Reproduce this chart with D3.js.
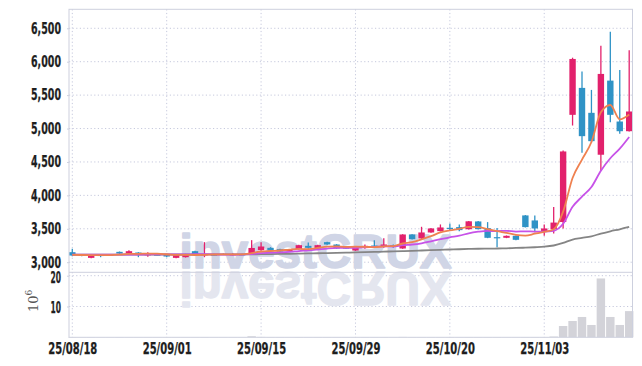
<!DOCTYPE html>
<html>
<head>
<meta charset="utf-8">
<script src="https://cdn.jsdelivr.net/npm/d3@7"></script>
<style>
  body { margin: 0; background: #fff; }
  svg text { font-family: "DejaVu Sans Condensed", "Liberation Sans", sans-serif; }
</style>
</head>
<body>
<svg id="chart" width="642" height="366"></svg>
<script>
// trading days, 25/08/18 .. 25/11/14
const dates = [
  "25/08/18","25/08/19","25/08/20","25/08/21","25/08/22","25/08/25","25/08/26","25/08/27","25/08/28","25/08/29",
  "25/09/01","25/09/02","25/09/03","25/09/04","25/09/05","25/09/08","25/09/09","25/09/10","25/09/11","25/09/12",
  "25/09/15","25/09/16","25/09/17","25/09/18","25/09/19","25/09/22","25/09/23","25/09/24","25/09/25","25/09/26",
  "25/09/29","25/09/30","25/10/01","25/10/02","25/10/10","25/10/13","25/10/14","25/10/15","25/10/16","25/10/17",
  "25/10/20","25/10/21","25/10/22","25/10/23","25/10/24","25/10/27","25/10/28","25/10/29","25/10/30","25/10/31",
  "25/11/03","25/11/04","25/11/05","25/11/06","25/11/07","25/11/10","25/11/11","25/11/12","25/11/13","25/11/14"
];

const open = [
  3150,3115,3065,3110,3105,3155,3130,3145,3105,3115,
  3115,3065,3075,3165,3110,3115,3120,3110,3120,3115,
  3180,3215,3195,3165,3195,3245,3205,3300,3265,3220,
  3175,3225,3250,3235,3255,3205,3415,3355,3445,3465,
  3515,3525,3493,3610,3510,3375,3365,3395,3700,3625,
  3465,3493,3602,5205,5608,5235,4608,5717,5105,4960
];
const high = [
  3200,3120,3120,3115,3120,3160,3180,3150,3150,3125,
  3120,3120,3125,3170,3300,3125,3130,3135,3125,3330,
  3300,3225,3200,3195,3260,3295,3260,3305,3270,3225,
  3235,3265,3330,3360,3265,3420,3420,3530,3510,3565,
  3580,3565,3615,3615,3600,3510,3400,3400,3705,3700,
  3565,3826,4670,6060,5852,5578,6240,6449,5877,6170
];
const low = [
  3090,3090,3060,3075,3100,3125,3125,3075,3080,3105,
  3075,3060,3070,3110,3075,3105,3110,3105,3110,3110,
  3170,3170,3155,3160,3190,3200,3200,3260,3200,3200,
  3170,3200,3230,3215,3215,3200,3340,3350,3440,3460,
  3475,3465,3490,3490,3360,3225,3360,3330,3520,3450,
  3395,3428,3503,5045,4638,4790,4363,5095,4921,4955
];
const close = [
  3100,3100,3115,3100,3115,3130,3165,3115,3120,3110,
  3085,3115,3115,3115,3120,3110,3125,3120,3115,3213,
  3235,3175,3160,3185,3255,3215,3255,3265,3205,3210,
  3235,3245,3240,3265,3235,3415,3345,3445,3505,3520,
  3510,3480,3612,3495,3365,3370,3395,3335,3525,3505,
  3505,3593,4657,6041,4886,4811,5817,5205,4960,5255
];

// moving averages
const ma5 = [
  3110,3108,3107,3106,3106,3112,3125,3125,3129,3128,
  3119,3109,3109,3108,3110,3115,3117,3118,3118,3137,
  3160,3168,3175,3189,3199,3195,3213,3233,3237,3228,
  3232,3230,3225,3237,3242,3280,3300,3341,3389,3446,
  3475,3500,3528,3525,3495,3464,3440,3410,3398,3426,
  3453,3493,3757,4260,4536,4798,5242,5352,5136,5210
];
const ma10 = [
  3114,3114,3113,3113,3113,3114,3115,3115,3116,3117,
  3116,3117,3117,3119,3119,3117,3113,3114,3113,3123,
  3137,3142,3147,3154,3167,3177,3190,3204,3213,3214,
  3216,3222,3229,3237,3235,3256,3265,3283,3313,3344,
  3373,3396,3433,3456,3469,3465,3470,3459,3461,3459,
  3459,3470,3575,3829,3981,4125,4368,4555,4698,4873
];
const ma60 = [
  3112,3112,3112,3113,3113,3113,3114,3114,3114,3114,
  3115,3115,3115,3115,3116,3116,3116,3117,3117,3118,
  3120,3122,3124,3126,3128,3131,3134,3137,3140,3143,
  3146,3150,3154,3158,3162,3166,3170,3175,3180,3185,
  3190,3194,3198,3201,3203,3205,3208,3213,3218,3224,
  3232,3250,3288,3339,3363,3388,3428,3463,3493,3527
];

// volume, millions of shares
const volume = [
  0.08,0.06,0.07,0.05,0.06,0.07,0.06,0.05,0.05,0.06,
  0.05,0.06,0.06,0.05,0.08,0.05,0.05,0.06,0.05,0.35,
  0.12,0.08,0.07,0.06,0.09,0.07,0.08,0.08,0.07,0.06,
  0.06,0.07,0.07,0.08,0.06,0.12,0.09,0.10,0.10,0.09,
  0.08,0.07,0.09,0.08,0.09,0.08,0.06,0.06,0.10,0.09,
  0.08,0.25,3.67,5.3,6.6,4.0,19.1,6.6,4.0,8.5
];

const priceTicks = [3000, 3500, 4000, 4500, 5000, 5500, 6000, 6500];
const volTicks = [10, 20];
const dateTicks = ["25/08/18", "25/09/01", "25/09/15", "25/09/29", "25/10/20", "25/11/03"];

const svg = d3.select("#chart");
const W = 642, H = 366;
const plot = { left: 69, right: 632.5, top: 9.3, mid: 272.3, bottom: 337.3 };

const x = d3.scaleLinear().domain([-0.35, dates.length - 0.65]).range([plot.left, plot.right]);
const y = d3.scaleLinear().domain([2849, 6784]).range([plot.mid, plot.top]);
const yv = d3.scaleLinear().domain([0, 21.1]).range([plot.bottom, plot.mid]);

const gridColor = "#c6c9dd";
const up = "#e2216c", down = "#2f93c6";

svg.append("rect").attr("width", W).attr("height", H).attr("fill", "#fff");

// grid
const grid = svg.append("g");
grid.selectAll(".hp").data(priceTicks).join("line")
  .attr("x1", plot.left).attr("x2", plot.right)
  .attr("y1", d => y(d)).attr("y2", d => y(d))
  .attr("stroke", gridColor).attr("stroke-dasharray", "1.2,2.4");
grid.selectAll(".hv").data(volTicks).join("line").attr("class", "hv")
  .attr("x1", plot.left).attr("x2", plot.right)
  .attr("y1", d => yv(d)).attr("y2", d => yv(d))
  .attr("stroke", gridColor).attr("stroke-dasharray", "1.2,2.4");
grid.selectAll(".vx").data(dateTicks).join("line").attr("class", "vx")
  .attr("x1", d => x(dates.indexOf(d))).attr("x2", d => x(dates.indexOf(d)))
  .attr("y1", plot.top).attr("y2", plot.bottom)
  .attr("stroke", gridColor).attr("stroke-dasharray", "1.2,2.4");

// watermark + reflection
const wmX = 315.5, wmBase = 268;
const wm = (fill, t) => svg.append("text").text("investCRUX")
  .attr("x", wmX).attr("y", wmBase).attr("text-anchor", "middle")
  .attr("transform", t)
  .style("font-family", "'Liberation Sans', Arial, sans-serif")
  .attr("font-weight", "bold").attr("font-size", 48)
  .attr("textLength", 272).attr("lengthAdjust", "spacingAndGlyphs")
  .attr("fill", fill).attr("stroke", fill).attr("stroke-width", 1.6)
  .attr("stroke-linejoin", "round");
wm("#d0d5e6", null);
wm("#e4e6ef", `translate(0,${2 * 270}) scale(1,-1)`);

// volume bars
const step = x(1) - x(0);
svg.append("g").selectAll("rect").data(volume).join("rect")
  .attr("x", (d, i) => x(i) - step / 2 + 0.5)
  .attr("width", step - 1)
  .attr("y", d => yv(d))
  .attr("height", d => yv(0) - yv(d))
  .attr("fill", "#d3d3d9");

// candles
const candles = svg.append("g").selectAll("g").data(dates).join("g");
const col = i => close[i] >= open[i] ? up : down;
candles.append("line")
  .attr("x1", (d, i) => x(i)).attr("x2", (d, i) => x(i))
  .attr("y1", (d, i) => y(high[i])).attr("y2", (d, i) => y(low[i]))
  .attr("stroke", (d, i) => col(i)).attr("stroke-width", 1.3);
const bw = 6.4;
candles.append("rect")
  .attr("x", (d, i) => x(i) - bw / 2).attr("width", bw)
  .attr("y", (d, i) => y(Math.max(open[i], close[i])))
  .attr("height", (d, i) => Math.max(1.2, Math.abs(y(open[i]) - y(close[i]))))
  .attr("fill", (d, i) => col(i));

// moving averages
const line = d3.line().x((d, i) => x(i)).y(d => y(d)).curve(d3.curveMonotoneX);
[[ma60, "#858585"], [ma10, "#c752e8"], [ma5, "#ef8150"]].forEach(([s, c]) => {
  svg.append("path").datum(s).attr("d", line)
    .attr("fill", "none").attr("stroke", c).attr("stroke-width", 1.8);
});

// frame
const frame = "#cdd0de";
svg.append("rect").attr("x", plot.left).attr("y", plot.top)
  .attr("width", plot.right - plot.left).attr("height", plot.bottom - plot.top)
  .attr("fill", "none").attr("stroke", frame);
svg.append("line").attr("x1", plot.left).attr("x2", plot.right)
  .attr("y1", plot.mid).attr("y2", plot.mid).attr("stroke", frame);

// axes
const yAxis = svg.append("g").attr("transform", `translate(${plot.left},0)`)
  .call(d3.axisLeft(y).tickValues(priceTicks).tickFormat(d3.format(",")).tickSize(2).tickPadding(6));
const vAxis = svg.append("g").attr("transform", `translate(${plot.left},0)`)
  .call(d3.axisLeft(yv).tickValues(volTicks).tickSize(2).tickPadding(6));
const xAxis = svg.append("g").attr("transform", `translate(0,${plot.bottom})`)
  .call(d3.axisBottom(x).tickValues(dateTicks.map(d => dates.indexOf(d)))
    .tickFormat(i => dates[i]).tickSize(0).tickPadding(6));
[[yAxis, 30], [vAxis, 10.5], [xAxis, 49]].forEach(([g, len]) => {
  g.select(".domain").remove();
  g.selectAll(".tick line").attr("stroke", frame);
  g.selectAll("text").attr("font-size", 15).attr("font-weight", "bold").attr("fill", "#1e1e1e")
    .attr("stroke", "#1e1e1e").attr("stroke-width", 0.25)
    .attr("textLength", len).attr("lengthAdjust", "spacingAndGlyphs");
});
vAxis.selectAll("text").attr("dy", "0.42em");

// volume unit label
const unit = svg.append("text")
  .attr("transform", "translate(38,312) rotate(-90)")
  .style("font-family", "'DejaVu Serif', serif").attr("font-size", 13).attr("fill", "#555");
unit.append("tspan").text("10");
unit.append("tspan").text("6").attr("font-size", 9).attr("dy", -6);
</script>
</body>
</html>
